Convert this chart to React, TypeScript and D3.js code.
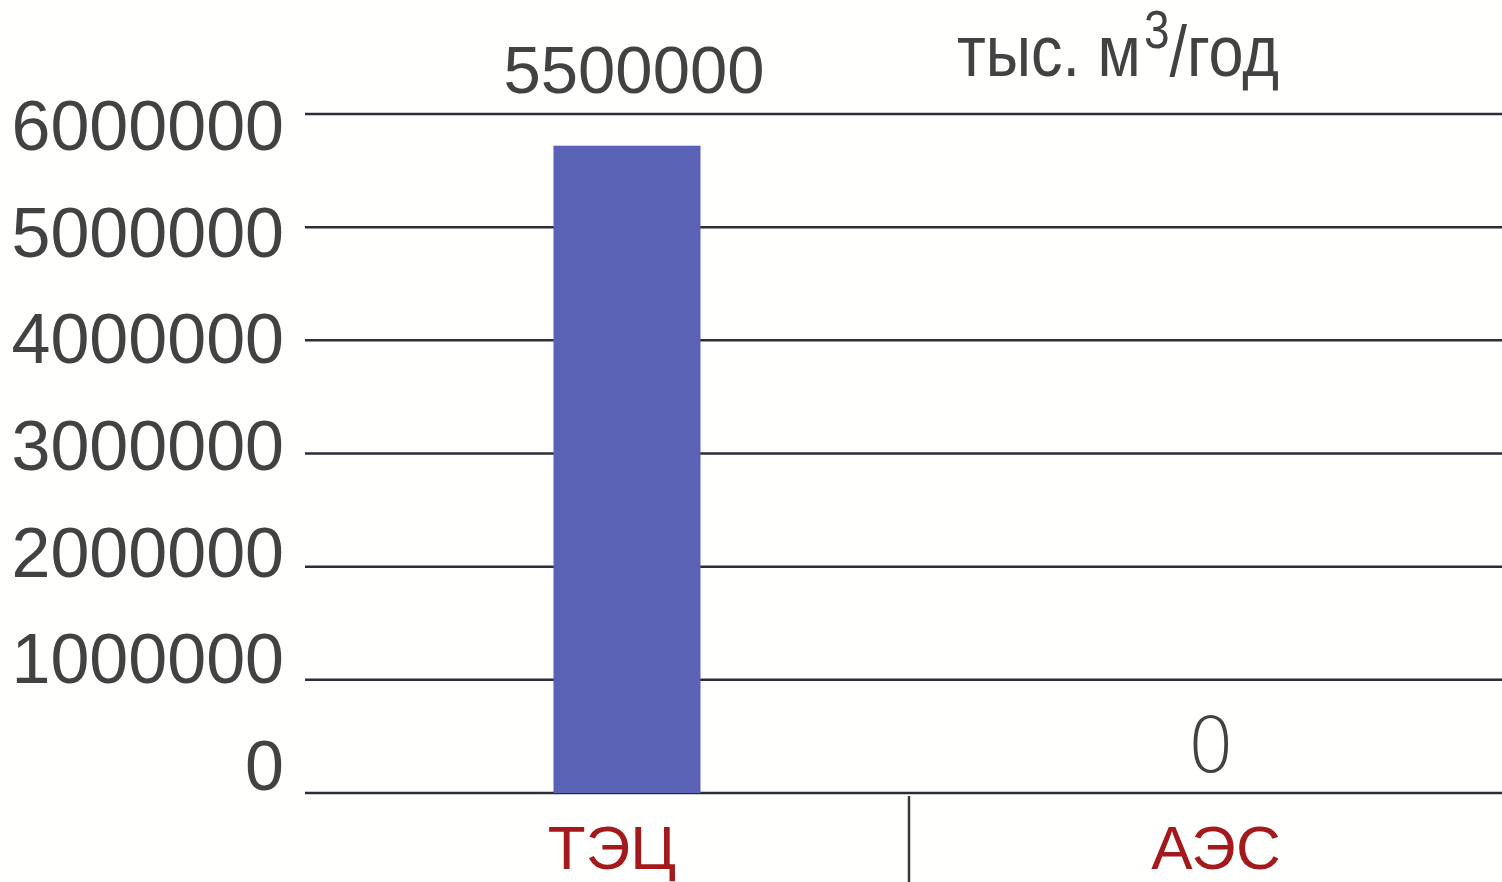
import React from "react";
import * as d3 from "d3";

const categories = ["ТЭЦ", "АЭС"];
const values = [5720000, 0];
const valueLabels = ["5500000", "0"];
const yTicks = [0, 1000000, 2000000, 3000000, 4000000, 5000000, 6000000];
const unitLabel = "тыс. м";
const unitSup = "3";
const unitTail = "/год";

const W = 1502;
const H = 882;

export default function App() {
  const y = d3.scaleLinear().domain([0, 6000000]).range([793, 114]);
  // tick labels in the original sit on a slightly tighter spacing than the gridlines
  const yLabel = d3.scaleLinear().domain([0, 6000000]).range([790, 150]);
  const x = d3.scaleBand<string>().domain(categories).range([305, 1513]).padding(0);
  const barW = 147;
  const gridX0 = 305;
  const font = "'Liberation Sans', Arial, Helvetica, sans-serif";
  const textColor = "#424242";
  const catColor = "#a3191c";
  const cx = (c: string) => (x(c) as number) + x.bandwidth() / 2;

  return (
    <svg
      width={W}
      height={H}
      style={{ position: "fixed", left: 0, top: 0, background: "#fffffd" }}
      fontFamily={font}
    >
      <rect x={0} y={0} width={W} height={H} fill="#fffffd" />
      {/* gridlines */}
      {yTicks.map((t) => (
        <line
          key={"g" + t}
          x1={gridX0}
          x2={W}
          y1={y(t)}
          y2={y(t)}
          stroke="#2d2d38"
          strokeWidth={2.5}
        />
      ))}
      {/* y tick labels */}
      {yTicks.map((t) => (
        <text
          key={"t" + t}
          x={284}
          y={yLabel(t)}
          textAnchor="end"
          fontSize={70}
          fill={textColor}
        >
          {String(t)}
        </text>
      ))}
      {/* bars */}
      {categories.map((c, i) => {
        const bx = cx(c) + 20;
        return (
          <rect
            key={"b" + c}
            x={bx - barW / 2}
            y={y(values[i])}
            width={barW}
            height={y(0) - y(values[i])}
            fill="#5a62b5"
          />
        );
      })}
      {/* value labels */}
      <text
        x={cx(categories[0]) + 27}
        y={y(6000000) - 21}
        textAnchor="middle"
        fontSize={67}
        fill={textColor}
      >
        {valueLabels[0]}
      </text>
      <text
        x={cx(categories[1])}
        y={y(values[1]) - 21}
        textAnchor="middle"
        fontSize={76}
        fontFamily="'DejaVu Sans', sans-serif"
        fontWeight={200}
        fill={textColor}
      >
        {valueLabels[1]}
      </text>
      {/* unit label */}
      <g transform="translate(957,76) scale(1,1.15)">
        <text x={0} y={0} fontSize={63} fill={textColor}>
          {unitLabel}
          <tspan dx={3} dy={-24} fontSize={46}>
            {unitSup}
          </tspan>
          <tspan dy={24}>{unitTail}</tspan>
        </text>
      </g>
      {/* separator */}
      <line
        x1={x(categories[1]) as number}
        x2={x(categories[1]) as number}
        y1={796}
        y2={H}
        stroke="#3a3a3a"
        strokeWidth={2.5}
      />
      {/* category labels */}
      {categories.map((c) => (
        <text
          key={"c" + c}
          x={cx(c) + 5}
          y={869}
          textAnchor="middle"
          fontSize={62}
          fill={catColor}
        >
          {c}
        </text>
      ))}
    </svg>
  );
}
